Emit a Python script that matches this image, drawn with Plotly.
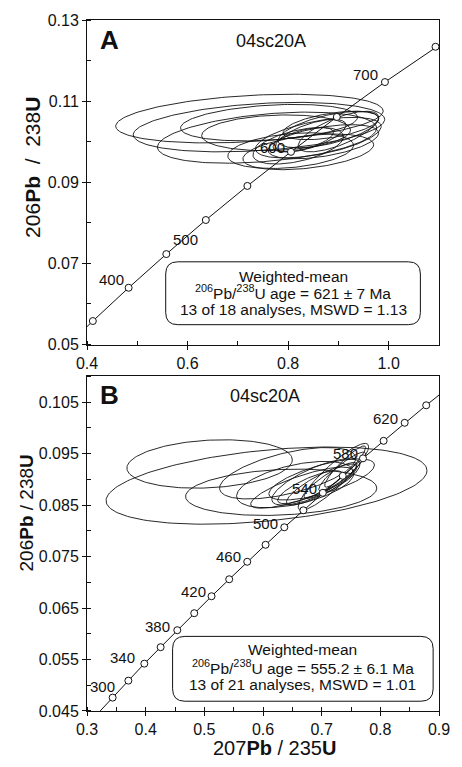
import numpy as np
import plotly.graph_objects as go

# ---------------- data ----------------
# Concordia markers, panel A (ages in Ma, 207Pb/235U, 206Pb/238U)
a_ages = [350, 400, 450, 500, 550, 600, 650, 700, 750]
a_conc_x = [0.4116, 0.4828, 0.5577, 0.6363, 0.7189, 0.8056, 0.8968, 0.9925, 1.0931]
a_conc_y = [0.0558, 0.0640, 0.0723, 0.0807, 0.0891, 0.0975, 0.1061, 0.1147, 0.1234]
a_line_x = [0.3705] + a_conc_x + [1.1987]
a_line_y = [0.0509] + a_conc_y + [0.1321]
a_label_ages = ["400", "500", "600", "700"]
a_label_x = [0.448, 0.595, 0.769, 0.953]
a_label_y = [0.0660, 0.0759, 0.0986, 0.1166]

# Concordia markers, panel B
b_ages = [300, 320, 340, 360, 380, 400, 420, 440, 460, 480, 500, 520, 540, 560, 580, 600, 620, 640]
b_conc_x = [0.3437, 0.3705, 0.3977, 0.4255, 0.4539, 0.4828, 0.5123, 0.5424, 0.5731, 0.6044,
            0.6363, 0.6688, 0.7020, 0.7359, 0.7704, 0.8056, 0.8415, 0.8782]
b_conc_y = [0.0476, 0.0509, 0.0542, 0.0574, 0.0607, 0.0640, 0.0673, 0.0706, 0.0740, 0.0773,
            0.0807, 0.0840, 0.0874, 0.0907, 0.0941, 0.0975, 0.1010, 0.1044]
b_line_x = [0.3175] + b_conc_x + [0.9155]
b_line_y = [0.0444] + b_conc_y + [0.1078]
b_label_ages = ["300", "340", "380", "420", "460", "500", "540", "580", "620"]
b_label_x = [0.327, 0.361, 0.421, 0.482, 0.541, 0.604, 0.670, 0.741, 0.808]
b_label_y = [0.0498, 0.0553, 0.0615, 0.0683, 0.0750, 0.0815, 0.0883, 0.0951, 0.1019]

# Error ellipses: centre x, centre y, half x-extent, half y-extent, correlation
a_cx = [0.723, 0.742, 0.758, 0.762, 0.776, 0.805, 0.860, 0.880, 0.845, 0.870, 0.830, 0.900, 0.885, 0.820, 0.840]
a_cy = [0.1057, 0.1036, 0.1010, 0.1047, 0.1022, 0.0978, 0.1010, 0.1030, 0.1015, 0.1000, 0.1005, 0.1025, 0.1040, 0.0990, 0.0975]
a_sx = [0.266, 0.250, 0.218, 0.176, 0.148, 0.125, 0.125, 0.100, 0.070, 0.110, 0.060, 0.080, 0.095, 0.090, 0.130]
a_sy = [0.0060, 0.0061, 0.0063, 0.0045, 0.0044, 0.0044, 0.0050, 0.0045, 0.0040, 0.0042, 0.0030, 0.0050, 0.0035, 0.0045, 0.0044]
a_rho = [0.31, 0.31, 0.37, 0.29, 0.15, 0.30, 0.55, 0.60, 0.65, 0.50, 0.60, 0.70, 0.50, 0.50, 0.40]

b_cx = [0.509, 0.606, 0.631, 0.642, 0.666, 0.720, 0.700, 0.690, 0.715, 0.680, 0.735, 0.700, 0.655, 0.740]
b_cy = [0.0930, 0.0888, 0.0875, 0.0912, 0.0884, 0.0905, 0.0890, 0.0895, 0.0898, 0.0885, 0.0915, 0.0900, 0.0890, 0.0925]
b_sx = [0.141, 0.2735, 0.163, 0.116, 0.087, 0.060, 0.060, 0.075, 0.045, 0.055, 0.040, 0.090, 0.100, 0.035]
b_sy = [0.0047, 0.0075, 0.0045, 0.0050, 0.0040, 0.0065, 0.0040, 0.0045, 0.0035, 0.0032, 0.0038, 0.0040, 0.0045, 0.0040]
b_rho = [0.17, 0.39, 0.18, 0.58, 0.80, 0.90, 0.85, 0.75, 0.88, 0.80, 0.90, 0.70, 0.50, 0.92]

a_box_lines = ["Weighted-mean", "<sup>206</sup>Pb/<sup>238</sup>U age = 621 ± 7 Ma",
               "13 of 18 analyses, MSWD = 1.13"]
b_box_lines = ["Weighted-mean", "<sup>206</sup>Pb/<sup>238</sup>U age = 555.2 ± 6.1 Ma",
               "13 of 21 analyses, MSWD = 1.01"]
sample = "04sc20A"

# ---------------- figure ----------------
FONT = "Liberation Sans, Arial, sans-serif"
INK = "#111"
fig = go.Figure()

def add_ellipses(cx, cy, sx, sy, rho, xa, ya):
    t = np.linspace(0, 2 * np.pi, 181)
    for i in range(len(cx)):
        ex = cx[i] + sx[i] * np.cos(t)
        ey = cy[i] + sy[i] * (rho[i] * np.cos(t) + np.sqrt(1 - rho[i] ** 2) * np.sin(t))
        fig.add_trace(go.Scatter(x=ex, y=ey, mode="lines", xaxis=xa, yaxis=ya,
                                 line=dict(color=INK, width=0.9), hoverinfo="skip",
                                 showlegend=False))

add_ellipses(a_cx, a_cy, a_sx, a_sy, a_rho, "x", "y")
add_ellipses(b_cx, b_cy, b_sx, b_sy, b_rho, "x2", "y2")

for lx, ly, cxs, cys, xa, ya in [(a_line_x, a_line_y, a_conc_x, a_conc_y, "x", "y"),
                                  (b_line_x, b_line_y, b_conc_x, b_conc_y, "x2", "y2")]:
    fig.add_trace(go.Scatter(x=lx, y=ly, mode="lines", xaxis=xa, yaxis=ya,
                             line=dict(color=INK, width=1), showlegend=False, hoverinfo="skip"))
    fig.add_trace(go.Scatter(x=cxs, y=cys, mode="markers", xaxis=xa, yaxis=ya, cliponaxis=True,
                             marker=dict(symbol="circle", size=7, color="white",
                                         line=dict(color=INK, width=1)),
                             showlegend=False, hoverinfo="skip"))

# invisible traces so the inner-tick overlay axes get drawn
for xa, ya in [("x3", "y"), ("x", "y3"), ("x4", "y2"), ("x2", "y4")]:
    fig.add_trace(go.Scatter(x=[None], y=[None], xaxis=xa, yaxis=ya, mode="markers",
                             showlegend=False, hoverinfo="skip"))

ann = []
for labs, xs, ys, xr, yr in [(a_label_ages, a_label_x, a_label_y, "x", "y"),
                             (b_label_ages, b_label_x, b_label_y, "x2", "y2")]:
    for s, xv, yv in zip(labs, xs, ys):
        ann.append(dict(x=xv, y=yv, xref=xr, yref=yr, text=s, showarrow=False,
                        font=dict(family=FONT, size=15, color=INK)))

# panel letters & sample names
ann += [
    dict(x=0.445, y=0.1250, xref="x", yref="y", text="<b>A</b>", showarrow=False,
         font=dict(family=FONT, size=26, color=INK)),
    dict(x=0.765, y=0.1248, xref="x", yref="y", text=sample, showarrow=False,
         font=dict(family=FONT, size=18, color=INK)),
    dict(x=0.338, y=0.1064, xref="x2", yref="y2", text="<b>B</b>", showarrow=False,
         font=dict(family=FONT, size=26, color=INK)),
    dict(x=0.603, y=0.1062, xref="x2", yref="y2", text=sample, showarrow=False,
         font=dict(family=FONT, size=18, color=INK)),
]

# box texts
A_BOX = dict(x0=0.5565, x1=1.063, y0=0.0549, y1=0.0704)
B_BOX = dict(x0=0.4459, x1=0.890, y0=0.0469, y1=0.0595)

def box_path(b, rx, ry):
    x0, x1, y0, y1 = b["x0"], b["x1"], b["y0"], b["y1"]
    return (f"M {x0+rx},{y0} L {x1-rx},{y0} Q {x1},{y0} {x1},{y0+ry} "
            f"L {x1},{y1-ry} Q {x1},{y1} {x1-rx},{y1} L {x0+rx},{y1} "
            f"Q {x0},{y1} {x0},{y1-ry} L {x0},{y0+ry} Q {x0},{y0} {x0+rx},{y0} Z")

shapes = [
    dict(type="path", xref="x", yref="y", path=box_path(A_BOX, 0.024, 0.0030),
         line=dict(color=INK, width=1), fillcolor="white", layer="above"),
    dict(type="path", xref="x2", yref="y2", path=box_path(B_BOX, 0.021, 0.0024),
         line=dict(color=INK, width=1), fillcolor="white", layer="above"),
]

a_text_y = [0.0669, 0.0629, 0.0587]
b_text_y = [0.0569, 0.0536, 0.0501]
for lines, tys, bx, xr, yr in [(a_box_lines, a_text_y, A_BOX, "x", "y"),
                               (b_box_lines, b_text_y, B_BOX, "x2", "y2")]:
    for s, ty in zip(lines, tys):
        ann.append(dict(x=(bx["x0"] + bx["x1"]) / 2, y=ty, xref=xr, yref=yr, text=s,
                        showarrow=False, font=dict(family=FONT, size=15.5, color=INK),
                        xanchor="center", yanchor="middle"))

# axis titles
ann += [
    dict(x=-0.157, y=0.787, xref="paper", yref="paper", xanchor="center", yanchor="middle",
         text="206<b>Pb</b>&nbsp; /&nbsp; 238<b>U</b>", textangle=-90,
         showarrow=False, font=dict(family=FONT, size=21, color=INK)),
    dict(x=-0.171, y=0.287, xref="paper", yref="paper", xanchor="center", yanchor="middle",
         text="206<b>Pb</b> / 238<b>U</b>", textangle=-90,
         showarrow=False, font=dict(family=FONT, size=19, color=INK)),
    dict(x=0.533, y=-0.054, xref="paper", yref="paper", xanchor="center", yanchor="middle",
         text="207<b>Pb</b> / 235<b>U</b>",
         showarrow=False, font=dict(family=FONT, size=20, color=INK)),
]

axis_common = dict(showgrid=False, zeroline=False, showline=True, mirror=True,
                   linecolor=INK, linewidth=1, ticks="outside", ticklen=4,
                   tickcolor=INK, tickfont=dict(family=FONT, size=16, color=INK))
inner = dict(showgrid=False, zeroline=False, showline=False, ticks="inside", ticklen=4,
             tickcolor=INK, showticklabels=False)

A_X = dict(range=[0.4, 1.1], tick0=0.4, dtick=0.2)
A_Y = dict(range=[0.05, 0.13], tick0=0.05, dtick=0.02)
B_X = dict(range=[0.3, 0.9], tick0=0.3, dtick=0.1)
B_Y = dict(range=[0.045, 0.110], tick0=0.045, dtick=0.01)

fig.update_layout(
    width=462, height=767, margin=dict(l=87, r=13, t=17, b=56),
    plot_bgcolor="white", paper_bgcolor="white", showlegend=False,
    xaxis=dict(**A_X, tickformat=".1f", anchor="y",
               minor=dict(dtick=0.1, ticks="inside", ticklen=4, tickcolor=INK),
               **axis_common),
    yaxis=dict(**A_Y, tickformat=".2f", domain=[0.5303, 1], anchor="x",
               minor=dict(dtick=0.01, ticks="inside", ticklen=4, tickcolor=INK),
               **axis_common),
    xaxis2=dict(**B_X, tickformat=".1f", anchor="y2",
                minor=dict(dtick=0.05, ticks="inside", ticklen=4, tickcolor=INK),
                **axis_common),
    yaxis2=dict(**B_Y, tickformat=".3f", domain=[0, 0.4841], anchor="x2",
                minor=dict(dtick=0.005, ticks="inside", ticklen=4, tickcolor=INK),
                **axis_common),
    xaxis3=dict(**A_X, overlaying="x", anchor="y", side="bottom", **inner),
    yaxis3=dict(**A_Y, overlaying="y", anchor="x", side="left", **inner),
    xaxis4=dict(**B_X, overlaying="x2", anchor="y2", side="bottom", **inner),
    yaxis4=dict(**B_Y, overlaying="y2", anchor="x2", side="left", **inner),
    annotations=ann, shapes=shapes,
)

fig.write_html("out.html", config={"displayModeBar": False},
               post_script="document.body.style.margin='0';document.body.style.padding='0';"
                           "document.body.style.overflow='hidden';")
